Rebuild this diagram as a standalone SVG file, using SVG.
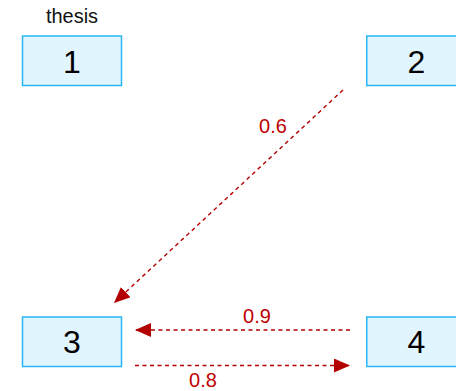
<svg xmlns="http://www.w3.org/2000/svg" width="456" height="391" viewBox="0 0 456 391">
<style>
.box{fill:#e1f5fe;stroke:#29b6f6;stroke-width:1.5}
.num{font-family:"Liberation Sans",Arial,sans-serif;font-size:32px;fill:#000;text-anchor:middle}
.cap{font-family:"Liberation Sans",Arial,sans-serif;font-size:20px;fill:#111;text-anchor:middle}
.edge{fill:none;stroke:#b30000;stroke-width:1.4;stroke-dasharray:4,3.5}
.lbl{font-family:"Liberation Sans",Arial,sans-serif;font-size:20px;fill:#c00000;text-anchor:middle}
</style>
<defs>
<marker id="ah" markerUnits="userSpaceOnUse" markerWidth="17" markerHeight="15" refX="16" refY="7" orient="auto">
<path d="M0,0 L16,7 L0,14 z" fill="#b30000"/>
</marker>
</defs>
<rect width="456" height="391" fill="#fff"/>
<g id="node1">
<text class="cap" x="72" y="23">thesis</text>
<rect class="box" x="22.5" y="36" width="99" height="49.5"/>
<text class="num" x="72" y="73">1</text>
</g>
<g id="node2">
<rect class="box" x="366.75" y="36" width="99" height="49.5"/>
<text class="num" x="416.5" y="73">2</text>
</g>
<g id="node3">
<rect class="box" x="22.5" y="317" width="99" height="49.5"/>
<text class="num" x="72" y="353">3</text>
</g>
<g id="node4">
<rect class="box" x="366.75" y="317" width="99" height="49.5"/>
<text class="num" x="416.5" y="353">4</text>
</g>
<g id="connectors">
<line class="edge" x1="343" y1="90" x2="114" y2="303" marker-end="url(#ah)"/>
<text class="lbl" x="273" y="133">0.6</text>
<line class="edge" x1="350" y1="330" x2="135" y2="330" marker-end="url(#ah)"/>
<text class="lbl" x="257" y="323">0.9</text>
<line class="edge" x1="135" y1="365.5" x2="350" y2="365.5" marker-end="url(#ah)"/>
<text class="lbl" x="203" y="387">0.8</text>
</g>
</svg>
